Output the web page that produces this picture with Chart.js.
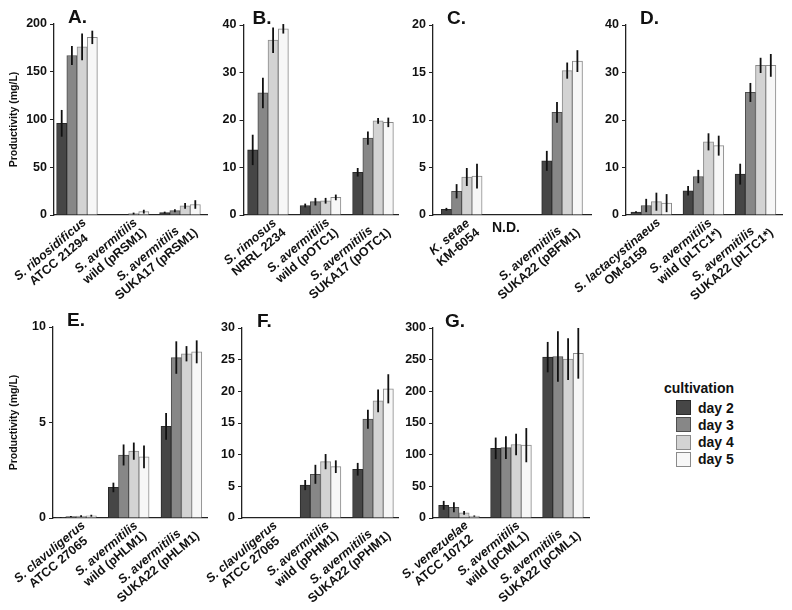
<!DOCTYPE html>
<html>
<head>
<meta charset="utf-8">
<script src="https://cdn.jsdelivr.net/npm/chart.js@4.4.1/dist/chart.umd.min.js"></script>
<style>
  body { margin: 0; background: #fff; }
  #page { position: relative; width: 792px; height: 610px; overflow: hidden; font-family: "Liberation Sans", Arial, sans-serif; }
  #page canvas { position: absolute; }
  .lg { position: absolute; font-weight: bold; font-size: 14px; line-height: 16px; color: #111; white-space: nowrap; }
  .sw { position: absolute; width: 13px; height: 13px; border: 1px solid #555; }
</style>
</head>
<body>
<div id="page"></div>
<script>
const days = ['day 2', 'day 3', 'day 4', 'day 5']

// rows = strains, columns = day 2..5 (mg/L), errs = half-length of the error bar
const A_labels = [['S. ribosidificus', 'ATCC 21294'], ['S. avermitilis', 'wild (pRSM1)'], ['S. avermitilis', 'SUKA17 (pRSM1)']]
const A_means = [[96, 167, 176, 186], [0, 0, 1.5, 3.5], [2.5, 4.5, 9.5, 11]]
const A_errs = [[14, 10, 14, 7], [0, 0, 1, 2], [1, 1.5, 3, 4.5]]
const A_ticks = [0, 50, 100, 150, 200]

const B_labels = [['S. rimosus', 'NRRL 2234'], ['S. avermitilis', 'wild (pOTC1)'], ['S. avermitilis', 'SUKA17 (pOTC1)']]
const B_means = [[13.7, 25.7, 36.8, 39.2], [2.0, 2.8, 3.0, 3.7], [9.0, 16.2, 19.8, 19.5]]
const B_errs = [[3.2, 3.2, 2.7, 1], [0.4, 0.8, 0.6, 0.6], [0.9, 1.4, 0.6, 1]]
const B_ticks = [0, 10, 20, 30, 40]

const C_labels = [['K. setae', 'KM-6054'], [], ['S. avermitilis', 'SUKA22 (pBFM1)']]
const C_means = [[0.6, 2.5, 4.0, 4.1], [null, null, null, null], [5.7, 10.8, 15.2, 16.2]]
const C_errs = [[0.15, 0.75, 0.95, 1.3], [0, 0, 0, 0], [1.05, 1.1, 0.85, 1.15]]
const C_ticks = [0, 5, 10, 15, 20]

const D_labels = [['S. lactacystinaeus', 'OM-6159'], ['S. avermitilis', 'wild (pLTC1*)'], ['S. avermitilis', 'SUKA22 (pLTC1*)']]
const D_means = [[0.6, 2.0, 2.8, 2.5], [5.1, 8.1, 15.4, 14.6], [8.6, 25.8, 31.5, 31.5]]
const D_errs = [[0.2, 1.4, 1.9, 1.9], [1.0, 1.4, 1.8, 2.1], [2.2, 2.0, 1.6, 2.4]]
const D_ticks = [0, 10, 20, 30, 40]

const E_labels = [['S. clavuligerus', 'ATCC 27065'], ['S. avermitilis', 'wild (pHLM1)'], ['S. avermitilis', 'SUKA22 (pHLM1)']]
const E_means = [[0.02, 0.08, 0.1, 0.12], [1.6, 3.3, 3.5, 3.2], [4.8, 8.4, 8.6, 8.7]]
const E_errs = [[0.02, 0.03, 0.05, 0.05], [0.25, 0.55, 0.45, 0.6], [0.7, 0.85, 0.4, 0.6]]
const E_ticks = [0, 5, 10]

const F_labels = [['S. clavuligerus', 'ATCC 27065'], ['S. avermitilis', 'wild (pPHM1)'], ['S. avermitilis', 'SUKA22 (pPHM1)']]
const F_means = [[null, null, null, null], [5.2, 6.9, 8.9, 8.1], [7.7, 15.6, 18.5, 20.4]]
const F_errs = [[0, 0, 0, 0], [0.8, 1.5, 1.2, 1.0], [1.0, 1.5, 1.8, 2.3]]
const F_ticks = [0, 5, 10, 15, 20, 25, 30]

const G_labels = [['S. venezuelae', 'ATCC 10712'], ['S. avermitilis', 'wild (pCML1)'], ['S. avermitilis', 'SUKA22 (pCML1)']]
const G_means = [[20, 17, 8, 3], [110, 111, 116, 115], [254, 255, 251, 260]]
const G_errs = [[7, 8, 3, 1], [17, 18, 17, 27], [24, 40, 33, 40]]
const G_ticks = [0, 50, 100, 150, 200, 250, 300]

const fills = ['#464646', '#878787', '#d3d3d3', '#f7f7f7']
const edges = ['#2a2a2a', '#4e4e4e', '#8a8a8a', '#8a8a8a']
const FONT = '"Liberation Sans", Arial, sans-serif'

// box = canvas [left, top, w, h]; area = plot [left, top, right, bottom]; c0/gap = first group centre and spacing
const panels = [
  { title: 'A.', labels: A_labels, means: A_means, errs: A_errs, ticks: A_ticks, box: [0, 0, 212, 305], area: [54, 24, 207, 215], c0: 77, gap: 51.5, tdx: 14, ytitle: true },
  { title: 'B.', labels: B_labels, means: B_means, errs: B_errs, ticks: B_ticks, box: [200, 0, 202, 305], area: [243.5, 25, 398, 215], c0: 268, gap: 52.5, tdx: 9 },
  { title: 'C.', labels: C_labels, means: C_means, errs: C_errs, ticks: C_ticks, box: [390, 0, 205, 305], area: [433, 25, 591, 215], c0: 461.7, gap: 50.2, tdx: 14, note: 'N.D.' },
  { title: 'D.', labels: D_labels, means: D_means, errs: D_errs, ticks: D_ticks, box: [555, 0, 237, 305], area: [626, 25, 782, 215], c0: 651.3, gap: 52.1, tdx: 14 },
  { title: 'E.', labels: E_labels, means: E_means, errs: E_errs, ticks: E_ticks, box: [0, 298, 212, 312], area: [53, 327, 207, 518], c0: 76, gap: 52.7, tdx: 14, ytitle: true },
  { title: 'F.', labels: F_labels, means: F_means, errs: F_errs, ticks: F_ticks, box: [200, 298, 202, 312], area: [242, 328, 398, 518], c0: 268, gap: 52.5, tdx: 15 },
  { title: 'G.', labels: G_labels, means: G_means, errs: G_errs, ticks: G_ticks, box: [390, 298, 203, 312], area: [433, 328, 589, 518], c0: 459, gap: 52, tdx: 12 }
]

const errorBars = {
  id: 'errorBars',
  afterDatasetsDraw(chart) {
    const { ctx } = chart
    const y = chart.scales.y
    ctx.save()
    ctx.strokeStyle = '#111'
    ctx.lineWidth = 1.8
    chart.data.datasets.forEach((ds, i) => {
      chart.getDatasetMeta(i).data.forEach((bar, j) => {
        const v = ds.data[j].y
        const e = ds.errs[j]
        if (v == null || !e) return
        ctx.beginPath()
        ctx.moveTo(bar.x, y.getPixelForValue(v + e))
        ctx.lineTo(bar.x, y.getPixelForValue(Math.max(v - e, 0)))
        ctx.stroke()
      })
    })
    ctx.restore()
  }
}

// strain names under the axis (rotated, centred 2-line blocks), panel letter, N.D.
const decor = p => ({
  id: 'decor' + p.title,
  afterDraw(chart) {
    const { ctx, chartArea } = chart
    const x = chart.scales.x
    const ang = 40 * Math.PI / 180
    const lh = 13.5
    const fontIt = `italic bold 12.5px ${FONT}`
    const fontUp = `bold 12.5px ${FONT}`
    ctx.save()
    ctx.fillStyle = '#111'
    p.labels.forEach((lines, j) => {
      if (!lines.length) return
      const cx = x.getPixelForValue(j)
      ctx.save()
      ctx.translate(cx + 12, chartArea.bottom + 11)
      ctx.rotate(-ang)
      const widths = lines.map((t, i) => { ctx.font = i === 0 ? fontIt : fontUp; return ctx.measureText(t).width })
      const W = Math.max(...widths)
      ctx.textAlign = 'center'
      ctx.textBaseline = 'middle'
      lines.forEach((t, i) => {
        ctx.font = i === 0 ? fontIt : fontUp
        ctx.fillText(t, -W / 2, (i - (lines.length - 1) / 2) * lh)
      })
      ctx.restore()
    })
    if (p.note) {
      ctx.font = `bold 14px ${FONT}`
      ctx.textAlign = 'center'
      ctx.textBaseline = 'middle'
      ctx.fillText(p.note, x.getPixelForValue(1) - 6, chartArea.bottom + 13)
    }
    ctx.font = `bold 19px ${FONT}`
    ctx.textAlign = 'left'
    ctx.textBaseline = 'alphabetic'
    ctx.fillText(p.title, chartArea.left + p.tdx, chartArea.top - 1)
    ctx.restore()
  }
})

const page = document.getElementById('page')

panels.forEach(p => {
  const [cl, ct, cw, ch] = p.box
  const [L, T, R, B] = p.area
  const cv = document.createElement('canvas')
  cv.width = cw
  cv.height = ch
  cv.style.left = cl + 'px'
  cv.style.top = ct + 'px'
  page.appendChild(cv)

  const datasets = days.map((d, k) => ({
    label: d,
    data: p.means.map((row, j) => ({ x: j, y: row[k] })),
    errs: p.errs.map(row => row[k]),
    backgroundColor: fills[k],
    borderColor: edges[k],
    borderWidth: 1,
    barThickness: 10.2
  }))

  new Chart(cv, {
    type: 'bar',
    data: { datasets },
    options: {
      responsive: false,
      animation: false,
      devicePixelRatio: 1,
      layout: { padding: { top: T - ct, right: cl + cw - R, left: 0, bottom: 0 } },
      plugins: { legend: { display: false }, tooltip: { enabled: false } },
      scales: {
        x: {
          type: 'linear',
          offset: false,
          min: (L - p.c0) / p.gap,
          max: (R - p.c0) / p.gap,
          afterFit: s => { s.height = ct + ch - B },
          ticks: { display: false, stepSize: 1, includeBounds: false },
          grid: { display: false },
          border: { display: true, color: '#222', width: 1.3 }
        },
        y: {
          min: 0,
          max: p.ticks[p.ticks.length - 1],
          afterFit: s => { s.width = L - cl },
          ticks: { stepSize: p.ticks[1] - p.ticks[0], color: '#111', padding: 3, font: { family: FONT, weight: 'bold', size: 12.5 } },
          grid: { drawOnChartArea: false, drawTicks: true, tickLength: 4, color: '#222', lineWidth: 1 },
          border: { display: true, color: '#222', width: 1.3 },
          title: { display: !!p.ytitle, text: 'Productivity (mg/L)', color: '#111', padding: { top: 8, bottom: 0 }, font: { family: FONT, weight: 'bold', size: 10.5 } }
        }
      }
    },
    plugins: [errorBars, decor(p)]
  })
})

// legend
const head = document.createElement('div')
head.className = 'lg'
head.textContent = 'cultivation'
head.style.left = '664px'
head.style.top = '380px'
page.appendChild(head)
days.forEach((d, k) => {
  const top = 400 + k * 17.25
  const sw = document.createElement('div')
  sw.className = 'sw'
  sw.style.left = '676px'
  sw.style.top = top + 'px'
  sw.style.background = fills[k]
  sw.style.borderColor = edges[k]
  page.appendChild(sw)
  const t = document.createElement('div')
  t.className = 'lg'
  t.textContent = d
  t.style.left = '698px'
  t.style.top = (top - 0.5) + 'px'
  page.appendChild(t)
})
</script>
</body>
</html>
